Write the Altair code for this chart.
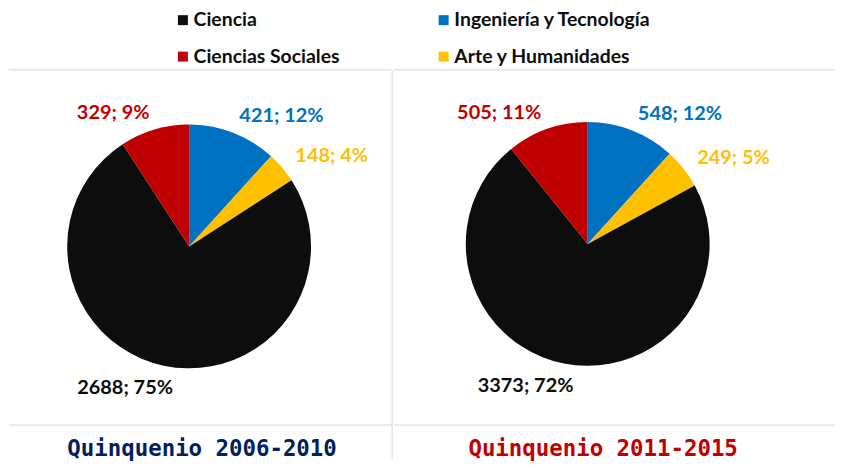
import altair as alt
import pandas as pd

# ---- data ----
categorias = ["Ingeniería y Tecnología", "Arte y Humanidades", "Ciencia", "Ciencias Sociales"]
orden = [1, 2, 3, 4]
valores_2006_2010 = [421, 148, 2688, 329]
valores_2011_2015 = [548, 249, 3373, 505]
leyenda = ["Ciencia", "Ingeniería y Tecnología", "Ciencias Sociales", "Arte y Humanidades"]
colores = ["#0D0D0D", "#0070C0", "#C00000", "#FFC000"]
titulos = ["Quinquenio 2006-2010", "Quinquenio 2011-2015"]
colores_titulo = ["#002060", "#C00000"]

FONT = "Lato"
R = 122.5
LR = 140
H = 418
GRID = "#E4E4E4"

color_scale = alt.Scale(domain=leyenda, range=colores)


def panel(valores, titulo, color_titulo, width, cx, cy, vline, tx):
    df = pd.DataFrame({"cat": categorias, "orden": orden, "valor": valores})
    base = (
        alt.Chart(df)
        .transform_joinaggregate(total="sum(valor)")
        .transform_window(acum="sum(valor)", sort=[alt.SortField("orden")], frame=[None, 0])
        .transform_calculate(
            mid="datum.acum - datum.valor/2",
            ang="2*PI*(datum.acum - datum.valor/2)/datum.total",
            etiqueta="datum.valor + '; ' + round(100*datum.valor/datum.total) + '%'",
        )
    )
    color = alt.Color(
        "cat:N",
        scale=color_scale,
        legend=alt.Legend(
            orient="none", legendX=165, legendY=1, columns=2, direction="horizontal",
            title=None, symbolType="square", symbolSize=100, symbolStrokeWidth=0,
            labelFont=FONT, labelFontSize=19.5, labelFontWeight="bold", labelColor="#0D0D0D",
            columnPadding=94, rowPadding=16, labelOffset=1, labelLimit=400,
        ),
    )
    arcs = base.mark_arc(outerRadius=R).encode(
        theta=alt.Theta("valor:Q", stack=True),
        color=color,
        order=alt.Order("orden:Q"),
        x=alt.value(cx),
        y=alt.value(cy),
    )

    def labels(cond, **kw):
        return base.transform_filter(cond).mark_text(
            radius=LR, font=FONT, fontSize=20, fontWeight="bold", baseline="middle", **kw
        ).encode(
            theta=alt.Theta("mid:Q", stack=False),
            text="etiqueta:N",
            color=alt.Color("cat:N", scale=color_scale, legend=None),
            x=alt.value(cx),
            y=alt.value(cy),
        )

    lab_r = labels("sin(datum.ang) > 0 && cos(datum.ang) >= -0.8", align="left")
    lab_l = labels("sin(datum.ang) <= 0 && cos(datum.ang) >= -0.8", align="right")
    lab_b = labels("cos(datum.ang) < -0.8", align="right", dx=13, dy=5)

    one = alt.Chart(pd.DataFrame({"t": [titulo]}))
    top = one.mark_rule(color=GRID, strokeWidth=1.5).encode(
        x=alt.value(0), x2=alt.value(width), y=alt.value(61))
    bot = one.mark_rule(color=GRID, strokeWidth=1.5).encode(
        x=alt.value(0), x2=alt.value(width), y=alt.value(H))
    title = one.mark_text(
        font="DejaVu Sans Mono", fontSize=22.5, fontWeight="bold", color=color_titulo,
        align="center", baseline="middle",
    ).encode(text="t:N", x=alt.value(tx), y=alt.value(H + 24))
    layers = [top, bot, arcs, lab_r, lab_l, lab_b, title]
    if vline:
        layers.append(one.mark_rule(color=GRID, strokeWidth=1.5).encode(
            x=alt.value(width), y=alt.value(61), y2=alt.value(452)))
    return alt.layer(*layers).properties(width=width, height=H)


p1 = panel(valores_2006_2010, titulos[0], colores_titulo[0], 385, 181, 238.5, True, 194)
p2 = panel(valores_2011_2015, titulos[1], colores_titulo[1], 443, 194.5, 236, False, 210)

chart = (
    alt.hconcat(p1, p2, spacing=0)
    .resolve_scale(theta="independent", color="shared")
    .properties(padding=0)
    .configure_view(stroke=None)
)

chart.save("out.html", embed_options={"renderer": "svg", "actions": False})
